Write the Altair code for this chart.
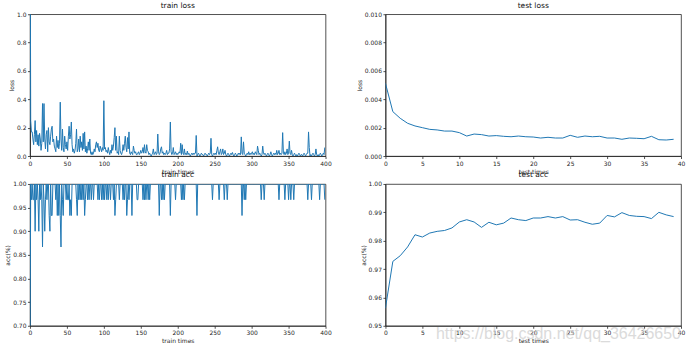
import altair as alt
import pandas as pd

FONT = "DejaVu Sans"
BLUE = "#1f77b4"

# ---------------- data ----------------
train_loss = [
    2.30, 0.25, 0.17, 0.17, 0.12, 0.08, 0.15, 0.25, 0.10, 0.18, 0.08, 0.15, 0.07, 0.16, 0.12, 0.04, 0.09, 0.37, 0.10, 0.37,
    0.12, 0.05, 0.15, 0.18, 0.03, 0.20, 0.10, 0.08, 0.14, 0.19, 0.21, 0.10, 0.12, 0.07, 0.05, 0.03, 0.14, 0.06, 0.11, 0.05,
    0.09, 0.38, 0.12, 0.04, 0.19, 0.06, 0.03, 0.14, 0.08, 0.05, 0.10, 0.04, 0.14, 0.21, 0.12, 0.15, 0.24, 0.08, 0.03, 0.05,
    0.02, 0.04, 0.09, 0.19, 0.03, 0.05, 0.12, 0.03, 0.14, 0.06, 0.10, 0.04, 0.16, 0.05, 0.17, 0.03, 0.07, 0.02, 0.05, 0.10,
    0.04, 0.12, 0.02, 0.01, 0.03, 0.01, 0.02, 0.05, 0.03, 0.08, 0.10, 0.06, 0.09, 0.04, 0.03, 0.07, 0.05, 0.03, 0.06, 0.04,
    0.39, 0.05, 0.06, 0.03, 0.04, 0.02, 0.06, 0.03, 0.01, 0.04, 0.02, 0.08, 0.04, 0.07, 0.13, 0.20, 0.04, 0.14, 0.02, 0.03,
    0.01, 0.14, 0.04, 0.02, 0.01, 0.03, 0.08, 0.04, 0.09, 0.14, 0.06, 0.03, 0.13, 0.05, 0.17, 0.02, 0.01, 0.03, 0.02, 0.01,
    0.07, 0.04, 0.02, 0.03, 0.01, 0.01, 0.02, 0.03, 0.01, 0.02, 0.04, 0.02, 0.03, 0.06, 0.02, 0.08, 0.03, 0.02, 0.08, 0.04,
    0.03, 0.01, 0.02, 0.01, 0.00, 0.01, 0.02, 0.05, 0.01, 0.02, 0.03, 0.01, 0.02, 0.155, 0.03, 0.01, 0.02, 0.05, 0.065, 0.02,
    0.03, 0.01, 0.02, 0.01, 0.02, 0.04, 0.01, 0.02, 0.02, 0.05, 0.24, 0.03, 0.01, 0.02, 0.06, 0.01, 0.02, 0.03, 0.01, 0.02,
    0.01, 0.02, 0.03, 0.02, 0.09, 0.01, 0.08, 0.02, 0.01, 0.05, 0.01, 0.02, 0.01, 0.035, 0.01, 0.02, 0.01, 0.00, 0.01, 0.02,
    0.01, 0.02, 0.01, 0.02, 0.02, 0.145, 0.00, 0.01, 0.02, 0.01, 0.00, 0.01, 0.02, 0.01, 0.01, 0.00, 0.01, 0.02, 0.01, 0.01,
    0.00, 0.01, 0.02, 0.01, 0.02, 0.125, 0.01, 0.00, 0.01, 0.02, 0.01, 0.02, 0.01, 0.04, 0.065, 0.02, 0.01, 0.03, 0.05, 0.01,
    0.02, 0.05, 0.01, 0.02, 0.04, 0.01, 0.00, 0.01, 0.02, 0.01, 0.00, 0.01, 0.02, 0.01, 0.025, 0.01, 0.00, 0.01, 0.02, 0.01,
    0.00, 0.01, 0.02, 0.01, 0.02, 0.01, 0.135, 0.02, 0.01, 0.10, 0.02, 0.01, 0.00, 0.01, 0.02, 0.01, 0.03, 0.01, 0.02, 0.01,
    0.02, 0.03, 0.01, 0.02, 0.01, 0.03, 0.02, 0.01, 0.07, 0.04, 0.01, 0.02, 0.01, 0.00, 0.01, 0.07, 0.02, 0.01, 0.02, 0.01,
    0.00, 0.01, 0.02, 0.01, 0.00, 0.01, 0.03, 0.01, 0.00, 0.01, 0.02, 0.01, 0.02, 0.01, 0.04, 0.01, 0.02, 0.04, 0.01, 0.02,
    0.01, 0.02, 0.165, 0.02, 0.01, 0.03, 0.01, 0.02, 0.05, 0.01, 0.02, 0.105, 0.02, 0.01, 0.04, 0.01, 0.00, 0.01, 0.02, 0.01,
    0.00, 0.01, 0.00, 0.01, 0.02, 0.01, 0.00, 0.01, 0.01, 0.00, 0.01, 0.02, 0.01, 0.00, 0.01, 0.02, 0.02, 0.17, 0.06, 0.00,
    0.01, 0.00, 0.01, 0.02, 0.01, 0.00, 0.01, 0.05, 0.01, 0.00, 0.01, 0.00, 0.01, 0.02, 0.01, 0.00, 0.01, 0.02, 0.01, 0.06,
]

train_acc = [
    0.60, 1.0, 0.9667, 1.0, 0.9667, 0.9667, 1.0, 0.9, 1.0, 0.9667, 1.0, 0.9667, 0.9, 1.0, 0.9667, 1.0, 0.9667, 0.8667, 1.0, 0.9667,
    0.9, 0.9667, 1.0, 0.9667, 1.0, 1.0, 0.9333, 0.9, 1.0, 0.9333, 0.9333, 1.0, 1.0, 1.0, 1.0, 0.9667, 1.0, 0.9333, 1.0, 0.9333,
    1.0, 0.9333, 0.8667, 1.0, 0.9667, 0.9333, 1.0, 1.0, 1.0, 0.9667, 1.0, 0.9667, 0.9667, 1.0, 0.9333, 0.9667, 0.9333, 1.0, 1.0, 1.0,
    1.0, 1.0, 1.0, 0.9667, 0.9333, 1.0, 0.9667, 1.0, 0.9667, 1.0, 0.9667, 1.0, 0.9667, 1.0, 0.9333, 0.9667, 1.0, 1.0, 0.9667, 1.0,
    0.9667, 1.0, 1.0, 0.9667, 1.0, 1.0, 0.9667, 1.0, 1.0, 1.0, 1.0, 1.0, 0.9667, 1.0, 0.9667, 1.0, 1.0, 0.9667, 1.0, 0.9667,
    1.0, 0.9667, 1.0, 1.0, 0.9667, 1.0, 0.9667, 1.0, 1.0, 0.9667, 1.0, 1.0, 1.0, 0.9667, 1.0, 0.9333, 0.9667, 1.0, 1.0, 1.0,
    1.0, 0.9667, 1.0, 1.0, 1.0, 1.0, 0.9667, 1.0, 0.9667, 1.0, 1.0, 0.9333, 0.9667, 1.0, 0.9667, 1.0, 1.0, 1.0, 0.9333, 1.0,
    1.0, 1.0, 1.0, 1.0, 1.0, 0.9667, 0.9667, 1.0, 1.0, 1.0, 1.0, 1.0, 1.0, 0.9667, 1.0, 0.9667, 1.0, 0.9667, 1.0, 1.0,
    0.9667, 1.0, 0.9667, 1.0, 1.0, 1.0, 1.0, 1.0, 1.0, 1.0, 1.0, 1.0, 1.0, 1.0, 1.0, 0.9333, 1.0, 1.0, 0.9667, 1.0,
    0.9667, 1.0, 0.9667, 1.0, 1.0, 1.0, 1.0, 1.0, 1.0, 1.0, 0.9333, 1.0, 1.0, 1.0, 1.0, 1.0, 1.0, 0.9667, 1.0, 1.0,
    1.0, 1.0, 1.0, 1.0, 1.0, 0.9667, 1.0, 0.9667, 1.0, 0.9667, 1.0, 1.0, 1.0, 1.0, 1.0, 1.0, 1.0, 1.0, 1.0, 1.0,
    1.0, 1.0, 1.0, 1.0, 1.0, 1.0, 0.9333, 1.0, 1.0, 1.0, 1.0, 1.0, 1.0, 1.0, 1.0, 1.0, 1.0, 1.0, 1.0, 1.0,
    1.0, 1.0, 1.0, 1.0, 1.0, 1.0, 1.0, 0.9667, 1.0, 1.0, 1.0, 1.0, 1.0, 1.0, 1.0, 1.0, 0.9667, 1.0, 1.0, 1.0,
    1.0, 1.0, 1.0, 0.9667, 1.0, 1.0, 1.0, 0.9667, 1.0, 1.0, 1.0, 1.0, 1.0, 1.0, 1.0, 1.0, 1.0, 1.0, 1.0, 1.0,
    1.0, 1.0, 1.0, 1.0, 1.0, 1.0, 1.0, 0.9333, 1.0, 1.0, 0.9667, 1.0, 0.9667, 1.0, 1.0, 1.0, 1.0, 1.0, 1.0, 1.0,
    1.0, 1.0, 1.0, 1.0, 1.0, 1.0, 1.0, 1.0, 1.0, 1.0, 1.0, 1.0, 1.0, 0.9667, 1.0, 1.0, 1.0, 0.9667, 1.0, 1.0,
    1.0, 1.0, 1.0, 1.0, 1.0, 1.0, 1.0, 1.0, 1.0, 1.0, 1.0, 1.0, 1.0, 1.0, 1.0, 1.0, 1.0, 0.9667, 1.0, 1.0,
    1.0, 1.0, 1.0, 1.0, 1.0, 0.9667, 1.0, 1.0, 1.0, 1.0, 0.9667, 1.0, 1.0, 0.9667, 1.0, 1.0, 1.0, 0.9667, 1.0, 1.0,
    1.0, 1.0, 1.0, 1.0, 1.0, 1.0, 1.0, 1.0, 1.0, 1.0, 1.0, 1.0, 1.0, 1.0, 1.0, 1.0, 0.9667, 1.0, 1.0, 1.0,
    1.0, 0.9667, 1.0, 1.0, 1.0, 1.0, 1.0, 1.0, 1.0, 1.0, 1.0, 1.0, 0.9667, 1.0, 1.0, 1.0, 1.0, 1.0, 1.0, 0.9667,
]

test_loss = [
    0.00513, 0.00313, 0.00266, 0.00231, 0.00212, 0.00200, 0.00188, 0.00184, 0.00176, 0.00176,
    0.00165, 0.00141, 0.00155, 0.00151, 0.00141, 0.00144, 0.00139, 0.00136, 0.00141, 0.00136,
    0.00134, 0.00127, 0.00132, 0.00127, 0.00127, 0.00146, 0.00132, 0.00141, 0.00136, 0.00139,
    0.00127, 0.00127, 0.00118, 0.00127, 0.00125, 0.00122, 0.00139, 0.00115, 0.00113, 0.00118,
]

test_acc = [
    0.9562, 0.9727, 0.9747, 0.9778, 0.9821, 0.9813, 0.9827, 0.9833, 0.9836, 0.9845,
    0.9866, 0.9874, 0.9866, 0.9847, 0.9865, 0.9856, 0.9862, 0.9880, 0.9874, 0.9871,
    0.9880, 0.9880, 0.9885, 0.9880, 0.9885, 0.9873, 0.9874, 0.9865, 0.9858, 0.9862,
    0.9889, 0.9884, 0.9899, 0.9889, 0.9886, 0.9885, 0.9878, 0.9900, 0.9891, 0.9885,
]

train_x_ticks = [0, 50, 100, 150, 200, 250, 300, 350, 400]
test_x_ticks = [0, 5, 10, 15, 20, 25, 30, 35, 40]
train_loss_ticks = [0.0, 0.2, 0.4, 0.6, 0.8, 1.0]
test_loss_ticks = [0.0, 0.002, 0.004, 0.006, 0.008, 0.010]
train_acc_ticks = [0.70, 0.75, 0.80, 0.85, 0.90, 0.95, 1.00]
test_acc_ticks = [0.95, 0.96, 0.97, 0.98, 0.99, 1.00]

W, H = 296, 142


def axis(title, values, fmt):
    return alt.Axis(
        title=title, values=values, format=fmt, grid=False,
        labelFont=FONT, titleFont=FONT, labelFontSize=6, titleFontSize=6,
        titleFontWeight="normal", labelColor="#262626", titleColor="#262626",
        domainColor="#262626", tickColor="#262626", tickSize=2.5, domainWidth=0.8,
        tickWidth=0.8, labelPadding=1.5, titlePadding=2, labelFlush=False,
    )


def panel(values, title, xtitle, ytitle, xdom, xticks, xfmt, ydom, yticks, yfmt):
    df = pd.DataFrame({"x": list(range(len(values))), "y": values})
    return (
        alt.Chart(df)
        .mark_line(color=BLUE, strokeWidth=1, clip=True)
        .encode(
            x=alt.X("x:Q", scale=alt.Scale(domain=xdom, nice=False, zero=False),
                    axis=axis(xtitle, xticks, xfmt)),
            y=alt.Y("y:Q", scale=alt.Scale(domain=ydom, nice=False, zero=False),
                    axis=axis(ytitle, yticks, yfmt)),
        )
        .properties(
            width=W, height=H,
            title=alt.TitleParams(title, font=FONT, fontSize=7.5, fontWeight="normal",
                                  color="#111111", offset=2),
        )
    )


p1 = panel(train_loss, "train loss", "train times", "loss", [0, 400], train_x_ticks, "d",
           [0, 1], train_loss_ticks, ".1f")
p2 = panel(test_loss, "test loss", "test times", "loss", [0, 40], test_x_ticks, "d",
           [0, 0.01], test_loss_ticks, ".3f")
p3 = panel(train_acc, "train acc", "train times", "acc(%)", [0, 400], train_x_ticks, "d",
           [0.7, 1.0], train_acc_ticks, ".2f")
p4_line = panel(test_acc, "test acc", "test times", "acc(%)", [0, 40], test_x_ticks, "d",
                [0.95, 1.0], test_acc_ticks, ".2f")

watermark = pd.DataFrame({"t": ["https://blog.csdn.net/qq_36426650"]})
wm = alt.Chart(watermark).mark_text(
    font="Liberation Sans", fontSize=16, color="#cfcfcf", opacity=0.75,
    align="right", baseline="middle"
).encode(text="t:N", x=alt.value(296), y=alt.value(150))
p4 = alt.layer(p4_line, wm)

chart = alt.concat(
    p1, p2, p3, p4, columns=2,
    spacing=alt.RowColnumber(row=28, column=60),
    bounds="flush",
).configure_view(stroke="#262626", strokeWidth=0.8).properties(
    padding={"left": 4, "top": 1, "right": 4, "bottom": 2},
    background="white",
)

chart.save("out.html", embed_options={"renderer": "svg", "actions": False})
